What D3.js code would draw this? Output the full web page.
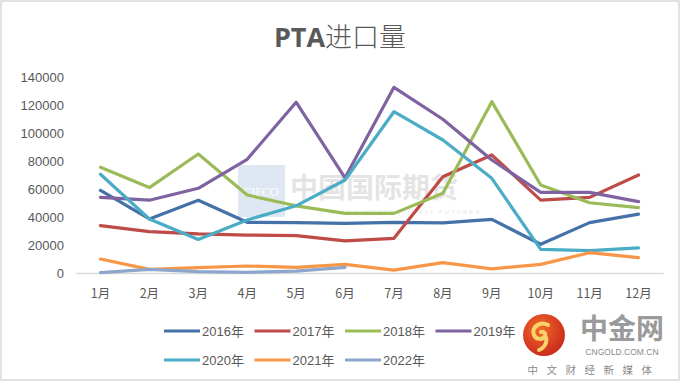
<!DOCTYPE html>
<html><head><meta charset="utf-8">
<script src="https://cdn.jsdelivr.net/npm/d3@7/dist/d3.min.js"></script>
<style>html,body{margin:0;padding:0;background:#fff;}svg{display:block;}</style>
</head><body>
<svg id="c" width="681" height="385"></svg>
<script>
const months = ["1月","2月","3月","4月","5月","6月","7月","8月","9月","10月","11月","12月"];
const yTicks = [0,20000,40000,60000,80000,100000,120000,140000];
const seriesNames = ["2016年","2017年","2018年","2019年","2020年","2021年","2022年"];
const seriesColors = ["#4472A8","#BE4B48","#9BBB59","#7F63A1","#4BACC6","#F79646","#8EA6CB"];
const s2016 = [59000,38600,52000,36200,36000,35500,36200,35800,38300,20500,36000,42000];
const s2017 = [33800,29500,27900,27100,26700,22900,24800,68800,84300,52100,54000,70000];
const s2018 = [75500,61000,85000,55700,48000,42600,42600,57000,122400,62900,50200,46700];
const s2019 = [54000,52000,60500,81200,122000,68000,132600,109800,80700,57600,57600,51000];
const s2020 = [70500,38600,24000,37900,48000,66400,115200,95000,67600,16900,16000,18000];
const s2021 = [10000,2600,3800,5000,4000,6200,2100,7400,2900,6200,14500,11000];
const s2022 = [300,2600,1000,500,1400,4000];
const allSeries = [s2016,s2017,s2018,s2019,s2020,s2021,s2022];

const svg = d3.select("#c");

// outer border
svg.append("rect").attr("x",1).attr("y",1).attr("width",678).attr("height",379)
  .attr("fill","#fff").attr("stroke","#d9d9d9").attr("stroke-width",1.5);

const x = d3.scaleBand().domain(months).range([76,663]);
const y = d3.scaleLinear().domain([0,140000]).range([273,77]);

// watermark
const wm = svg.append("g").attr("opacity",0.55);
wm.append("rect").attr("x",238).attr("y",165).attr("width",47).attr("height",52).attr("fill","#c5d5e8");
wm.append("text").attr("x",261).attr("y",196).attr("text-anchor","middle").attr("font-family","Liberation Serif,serif")
  .attr("font-size",12).attr("fill","#fff").text("CIFCO");
wm.append("text").attr("x",290).attr("y",198).attr("font-family","'Noto Sans CJK SC',sans-serif").attr("font-weight","bold")
  .attr("font-size",28).attr("fill","#cfcfcf").text("中国国际期货");
wm.append("text").attr("x",330).attr("y",214).attr("font-family","'Liberation Sans',sans-serif")
  .attr("font-size",6).attr("letter-spacing",2).attr("fill","#cfcfcf").text("CHINA INTERNATIONAL FUTURES");

// title
const title = svg.append("text").attr("x",340).attr("y",47).attr("text-anchor","middle")
  .attr("font-size",27).attr("fill","#595959");
title.append("tspan").attr("font-weight","bold").attr("font-family","'Open Sans','Liberation Sans',sans-serif").text("PTA");
title.append("tspan").attr("font-family","'Noto Sans CJK SC',sans-serif").attr("font-weight","300").text("进口量");

// y axis labels
const yAxis = d3.axisLeft(y).tickValues(yTicks).tickSize(0).tickPadding(0).tickFormat(d3.format("d"));
const ya = svg.append("g").attr("transform","translate(64,0)").call(yAxis);
ya.select(".domain").remove();
ya.selectAll("text").attr("font-family","'Liberation Sans',Calibri,sans-serif").attr("font-size",13).attr("fill","#595959").attr("dy","0.35em");

// x axis
const xAxis = d3.axisBottom(x).tickSize(0).tickPadding(16);
const xa = svg.append("g").attr("transform","translate(0,273)").call(xAxis);
xa.select(".domain").attr("stroke","#d9d9d9").attr("stroke-width",1.3);
xa.selectAll("text").attr("font-family","'Noto Sans CJK SC',sans-serif").attr("font-size",12.5).attr("fill","#595959");

// lines
const line = d3.line().x((d,i)=>x(months[i])+x.bandwidth()/2).y(d=>y(d));
allSeries.forEach((s,i)=>{
  svg.append("path").datum(s).attr("d",line).attr("fill","none")
    .attr("stroke",seriesColors[i]).attr("stroke-width",3.2).attr("stroke-linejoin","round").attr("stroke-linecap","round");
});

// legend
const leg = svg.append("g");
seriesNames.forEach((n,i)=>{
  const row = Math.floor(i/4), col = i%4;
  const lx = 164 + col*90.5, ly = 331 + row*29;
  leg.append("line").attr("x1",lx).attr("x2",lx+36).attr("y1",ly).attr("y2",ly)
    .attr("stroke",seriesColors[i]).attr("stroke-width",3);
  leg.append("text").attr("x",lx+38).attr("y",ly).attr("dy","0.35em")
    .attr("font-family","'Liberation Sans','Noto Sans CJK SC',sans-serif").attr("font-size",13).attr("fill","#595959").text(n);
});

// logo
const logo = svg.append("g");
const grad = svg.append("defs").append("radialGradient").attr("id","lg").attr("cx","40%").attr("cy","35%").attr("r","70%");
grad.append("stop").attr("offset","0%").attr("stop-color","#f26a2a");
grad.append("stop").attr("offset","100%").attr("stop-color","#c9261c");
logo.append("circle").attr("cx",544).attr("cy",335).attr("r",21).attr("fill","url(#lg)");
logo.append("path").attr("d","M548,325 c-8,-4 -17,2 -14,10 c2,5 9,5 11,1 c1,-3 -2,-5 -4,-4 M545,336 c3,4 1,11 -6,14")
  .attr("fill","none").attr("stroke","#f7d36a").attr("stroke-width",4).attr("stroke-linecap","round");
logo.append("text").attr("x",622).attr("y",339).attr("text-anchor","middle").attr("font-family","'Noto Sans CJK SC',sans-serif")
  .attr("font-weight","bold").attr("font-size",28).attr("fill","#9a9a9a").text("中金网");
logo.append("text").attr("x",622).attr("y",355).attr("text-anchor","middle").attr("font-family","'Liberation Sans',sans-serif")
  .attr("font-size",8.5).attr("fill","#8a8a8a").text("CNGOLD.COM.CN");
logo.append("text").attr("x",594).attr("y",374).attr("text-anchor","middle").attr("font-family","'Noto Sans CJK SC',sans-serif")
  .attr("font-size",10.5).attr("letter-spacing",8.5).attr("fill","#8a8a8a").text("中文财经新媒体");
</script>
</body></html>
